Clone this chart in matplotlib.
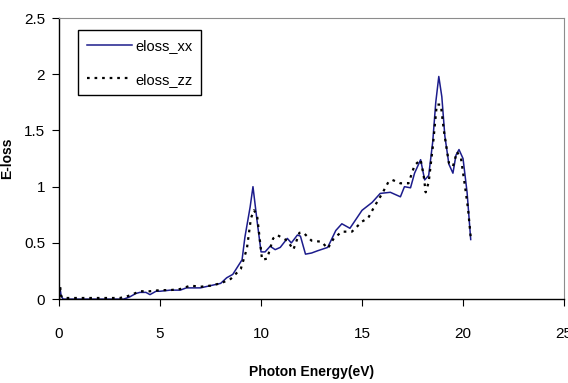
import matplotlib
matplotlib.use("Agg")
import matplotlib.pyplot as plt

plt.rcParams['font.family'] = ['Liberation Sans', 'DejaVu Sans']

# energy loss along xx
energy_xx = [0.0, 0.05, 0.1, 0.2, 1.0, 2.0, 3.0, 3.2, 3.5, 3.8, 4.0, 4.3, 4.5, 4.8,
             5.0, 5.5, 6.0, 6.3, 7.0, 7.5, 8.0, 8.3, 8.6, 9.06, 9.2, 9.46, 9.6,
             9.8, 10.0, 10.2, 10.45, 10.7, 10.95, 11.3, 11.5, 11.8, 11.95, 12.2,
             12.5, 12.8, 13.3, 13.7, 14.0, 14.4, 15.0, 15.5, 15.9, 16.4, 16.9,
             17.1, 17.4, 17.6, 17.9, 18.1, 18.3, 18.5, 18.65, 18.8, 18.95, 19.1,
             19.3, 19.5, 19.65, 19.8, 20.0, 20.2, 20.38]
eloss_xx = [0.0, 0.1, 0.03, 0.0, 0.0, 0.0, 0.0, 0.0, 0.02, 0.05, 0.06, 0.06, 0.04, 0.07,
            0.07, 0.08, 0.08, 0.1, 0.1, 0.12, 0.14, 0.19, 0.22, 0.35, 0.55, 0.82, 1.0,
            0.70, 0.42, 0.42, 0.47, 0.44, 0.46, 0.54, 0.5, 0.57, 0.56, 0.4,
            0.41, 0.43, 0.46, 0.61, 0.67, 0.63, 0.79, 0.86, 0.94, 0.95, 0.91,
            1.0, 0.99, 1.12, 1.24, 1.06, 1.1, 1.4, 1.75, 1.98, 1.8, 1.45,
            1.2, 1.12, 1.28, 1.33, 1.25, 0.95, 0.53]

# energy loss along zz
energy_zz = [0.0, 0.05, 0.1, 0.2, 1.0, 2.0, 3.0, 3.3, 3.6, 4.0, 4.5, 5.0, 5.5, 6.0,
             6.5, 7.0, 7.5, 8.0, 8.5, 9.0, 9.3, 9.5, 9.65, 9.8, 10.05, 10.3, 10.6,
             10.8, 11.3, 11.6, 11.9, 12.1, 12.5, 13.0, 13.3, 13.6, 14.0, 14.5,
             15.0, 15.3, 15.6, 16.0, 16.3, 16.5, 16.9, 17.3, 17.6, 17.9, 18.05,
             18.15, 18.3, 18.5, 18.7, 18.9, 19.05, 19.3, 19.5, 19.7, 19.9, 20.1,
             20.25, 20.38]
eloss_zz = [0.0, 0.12, 0.03, 0.01, 0.01, 0.01, 0.01, 0.02, 0.04, 0.07, 0.07, 0.08, 0.08, 0.09,
            0.12, 0.11, 0.12, 0.14, 0.18, 0.27, 0.45, 0.72, 0.79, 0.75, 0.35, 0.36, 0.54,
            0.57, 0.52, 0.44, 0.59, 0.59, 0.52, 0.51, 0.45, 0.54, 0.6, 0.6,
            0.69, 0.72, 0.82, 0.94, 1.04, 1.06, 1.03, 1.03, 1.19, 1.24, 1.1,
            0.95, 1.04, 1.35, 1.73, 1.73, 1.5, 1.21, 1.18, 1.31, 1.25, 1.0,
            0.8, 0.55]

xticks = [0, 5, 10, 15, 20, 25]
yticks = [0, 0.5, 1, 1.5, 2, 2.5]
ytick_labels = ['0', '0.5', '1', '1.5', '2', '2.5']

fig = plt.figure(figsize=(5.68, 3.83), dpi=100)
ax = fig.add_axes([0.104, 0.219, 0.889, 0.734])

ax.plot(energy_xx, eloss_xx, color='#1c1c8c', lw=1.1, label='eloss_xx')
ax.plot(energy_zz, eloss_zz, color='black', lw=1.6, linestyle=(0, (1.2, 2.2)), label='eloss_zz')

ax.set_xlim(0, 25)
ax.set_ylim(0, 2.5)
ax.set_xticks(xticks)
ax.set_xticklabels([str(t) for t in xticks])
ax.set_yticks(yticks)
ax.set_yticklabels(ytick_labels)

for side in ['top', 'right']:
    ax.spines[side].set_color('#8c8c8c')
for side in ['left', 'bottom']:
    ax.spines[side].set_color('black')
    ax.spines[side].set_linewidth(1.0)

ax.tick_params(axis='x', direction='out', length=5, pad=15, labelsize=11)
ax.tick_params(axis='y', direction='out', length=5, pad=5, labelsize=11)

ax.set_xlabel('Photon Energy(eV)', fontsize=10, fontweight='bold', labelpad=17)
ax.set_ylabel('E-loss', fontsize=10, fontweight='bold', labelpad=7)

leg = ax.legend(loc='upper left', bbox_to_anchor=(0.038, 0.957), borderaxespad=0,
                fancybox=False, framealpha=1, edgecolor='black', fontsize=10.5,
                handlelength=3.1, handletextpad=0.2, labelspacing=1.35, borderpad=0.6)
leg.get_frame().set_linewidth(1.0)

plt.savefig('out.png', dpi=100)
